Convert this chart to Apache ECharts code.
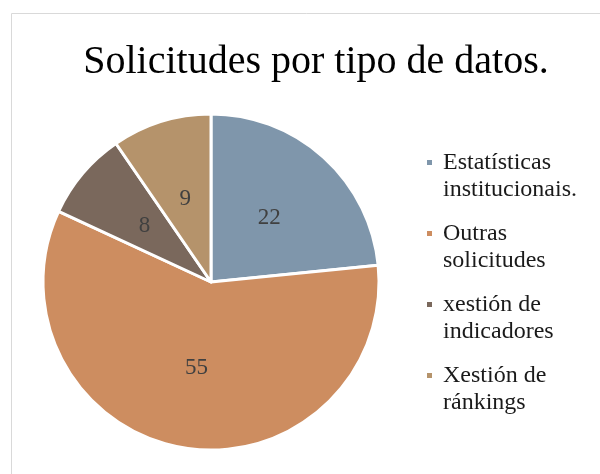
<!DOCTYPE html>
<html>
<head>
<meta charset="utf-8">
<script src="https://cdn.jsdelivr.net/npm/echarts@6/dist/echarts.min.js"></script>
<style>
  html, body { margin: 0; padding: 0; background: #fff; }
  #main { width: 600px; height: 474px; }
</style>
</head>
<body>
<div id="main"></div>
<script>
// datos do gráfico
var categorias = ['Estatísticas\ninstitucionais.', 'Outras\nsolicitudes', 'xestión de\nindicadores', 'Xestión de\nránkings'];
var valores = [22, 55, 8, 9];
var cores = ['#7f96ab', '#cd8d60', '#7a685c', '#b5936b'];

var fonte = 'Liberation Serif';

var pieData = [];
for (var i = 0; i < categorias.length; i++) {
    pieData.push({ name: categorias[i], value: valores[i], itemStyle: { color: cores[i] } });
}

var myChart = echarts.init(document.getElementById('main'));
myChart.setOption({
    animation: false,
    title: {
        text: 'Solicitudes por tipo de datos.',
        left: 311,
        top: 37,
        textAlign: 'center',
        textStyle: { fontFamily: fonte, fontSize: 40, fontWeight: 'normal', color: '#000' }
    },
    legend: {
        orient: 'vertical',
        left: 420,
        top: 144,
        itemWidth: 7,
        itemHeight: 34,
        itemGap: 17,
        // cadradiño arriba, alineado coa primeira liña do texto
        icon: 'path://M0,0h7v7h-7z M0,34h0.01v0.01h-0.01z',
        textStyle: { fontFamily: fonte, fontSize: 24, lineHeight: 27, color: '#1a1a1a', padding: [0, 0, 0, 5] },
        data: categorias
    },
    graphic: [{
        type: 'rect',
        shape: { x: 11.5, y: 13.5, width: 620, height: 500 },
        style: { fill: 'none', stroke: '#d9d9d9', lineWidth: 1 },
        silent: true
    }],
    series: [{
        type: 'pie',
        center: [211, 282],
        radius: 168,
        startAngle: 90,
        clockwise: true,
        label: {
            position: 'inside',
            formatter: '{c}',
            fontFamily: fonte,
            fontSize: 23,
            color: '#404040'
        },
        labelLine: { show: false },
        itemStyle: { borderColor: '#fff', borderWidth: 3 },
        emphasis: { disabled: true },
        data: pieData
    }]
});
</script>
</body>
</html>
